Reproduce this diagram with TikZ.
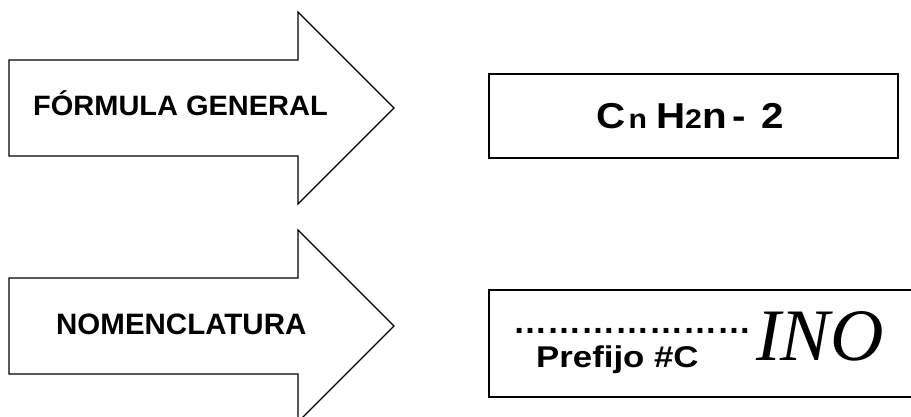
\documentclass[tikz,border=0pt]{standalone}
\usepackage{fontspec}
\usepackage{graphicx}
\setmainfont{Liberation Sans}
\newfontfamily\timesfont{Liberation Serif}
\begin{document}
\begin{tikzpicture}[x=1pt,y=-1pt,
  outline/.style={draw=black,line width=1.2pt,line join=miter,fill=white},
  lbl/.style={inner sep=0pt,anchor=base west,font=\bfseries}]
\useasboundingbox (0,0) rectangle (911,417);
\clip (0,0) rectangle (911,417);
\fill[white] (0,0) rectangle (911,417);
% arrows
\draw[outline] (9,60) -- (298,60) -- (298,12) -- (394,108) -- (298,204) -- (298,156) -- (9,156) -- cycle;
\draw[outline] (9,278) -- (298,278) -- (298,230) -- (394,326) -- (298,422) -- (298,374) -- (9,374) -- cycle;
% boxes
\draw[outline] (489,74) rectangle (898,158);
\draw[outline] (489,290) rectangle (925,397);
% texts
\node[lbl,font=\bfseries\fontsize{28}{28}\selectfont] (fg) at (33,116) {\scalebox{1.035}[1]{FÓRMULA GENERAL}};
\node[lbl,font=\bfseries\fontsize{29.5}{29.5}\selectfont] (nom) at (56,334) {NOMENCLATURA};
\node[lbl,font=\bfseries\fontsize{36}{36}\selectfont] (form) at (596,129)
  {\scalebox{1.12}[1]{C\hspace{3pt}{\fontsize{27}{27}\selectfont n}\hspace{8pt}H{\fontsize{27}{27}\selectfont 2}n\hspace{5pt}-\hspace{14pt}2}};
\node[lbl,font=\bfseries\fontsize{34}{34}\selectfont] (dots) at (513,333) {…………………};
\node[lbl,font=\bfseries\fontsize{30}{30}\selectfont] (pref) at (536,367) {\scalebox{1.16}[1]{Prefijo \#C}};
\node[lbl,font=\timesfont\itshape\fontsize{74}{74}\selectfont] (ino) at (756,360) {INO};
\end{tikzpicture}
\end{document}
